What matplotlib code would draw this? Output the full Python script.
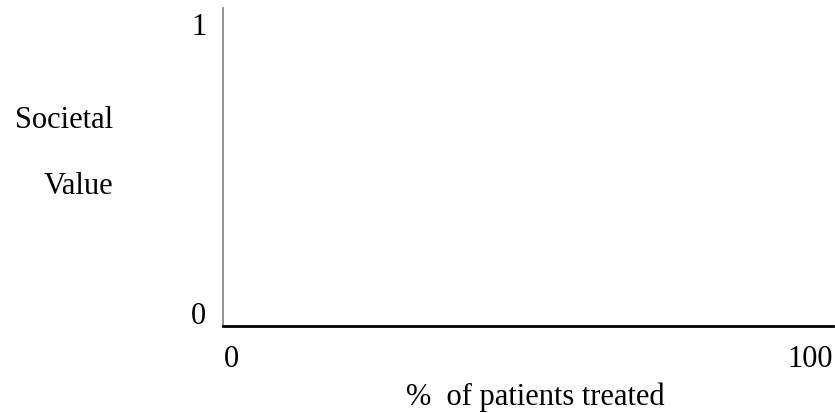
import matplotlib
matplotlib.use("Agg")
import matplotlib.pyplot as plt

x_ticks = [0, 100]
x_tick_labels = ["0", "100"]
y_ticks = [0, 1]
y_tick_labels = ["0", "1"]
x_label = "%  of patients treated"
y_label_lines = ["Societal", "Value"]

plt.rcParams['font.family'] = ['Liberation Serif', 'DejaVu Serif']

W, H = 835, 413
fig = plt.figure(figsize=(W / 100, H / 100), dpi=100)
left, right, bottom, top = 223, 833, 326, 8
ax = fig.add_axes([left / W, 1 - bottom / H, (right - left) / W, (bottom - top) / H])

# map data 0->x=231, 100->x=810 ; y 0->313, 1->24
px_per_x = (810 - 231) / 100
ax.set_xlim(-(231 - left) / px_per_x, 100 + (right - 810) / px_per_x)
px_per_y = 313 - 24
ax.set_ylim(-(bottom - 313) / px_per_y, 1 + (24 - top) / px_per_y)

for s in ['top', 'right']:
    ax.spines[s].set_visible(False)
ax.spines['left'].set_color('#8a8a8a')
ax.spines['left'].set_linewidth(1.3)
ax.spines['bottom'].set_color('black')
ax.spines['bottom'].set_linewidth(2.0)

ax.set_xticks(x_ticks)
ax.set_xticklabels(x_tick_labels, fontsize=22)
ax.set_yticks(y_ticks)
ax.set_yticklabels(y_tick_labels, fontsize=22)
ax.tick_params(axis='both', length=0)
ax.tick_params(axis='x', pad=14)
ax.tick_params(axis='y', pad=12)

fig.text(535 / W, 1 - 397 / H, x_label, fontsize=22, ha='center', va='center')
fig.text(113 / W, 1 - 121 / H, y_label_lines[0], fontsize=22, ha='right', va='center')
fig.text(113 / W, 1 - 186 / H, y_label_lines[1], fontsize=22, ha='right', va='center')

fig.savefig("out.png", dpi=100)
